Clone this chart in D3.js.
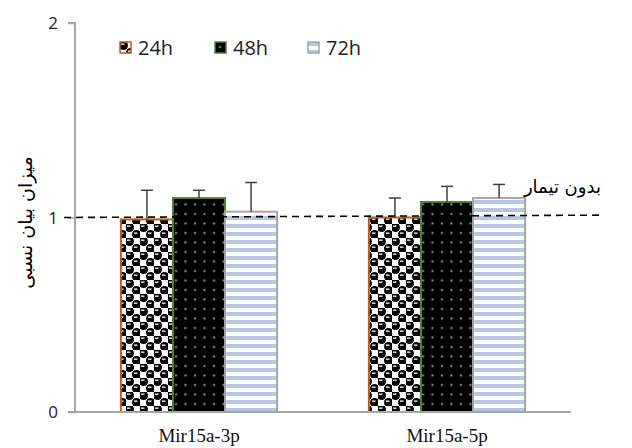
<!DOCTYPE html>
<html>
<head>
<meta charset="utf-8">
<script src="https://cdn.jsdelivr.net/npm/d3@7"></script>
<style>
  body { margin: 0; background: #fff; }
</style>
</head>
<body>
<svg id="chart" width="632" height="448"></svg>
<script>
const categories = ["Mir15a-3p", "Mir15a-5p"];
const series = ["24h", "48h", "72h"];
const values = {
  "24h": [0.99, 1.00],
  "48h": [1.10, 1.08],
  "72h": [1.03, 1.10]
};
const errors = {
  "24h": [0.15, 0.10],
  "48h": [0.04, 0.08],
  "72h": [0.15, 0.07]
};
const yTicks = [0, 1, 2];
const refValue = 1;
const refLabel = "بدون تیمار";
const yTitle = "میزان بیان نسبی";

const svg = d3.select("#chart");
const margin = { left: 75, right: 61, top: 23, bottom: 36 };
const width = 632, height = 448;

const x = d3.scaleBand().domain(categories).range([margin.left, width - margin.right]).paddingInner(0.37).paddingOuter(0.185);
const xs = d3.scaleBand().domain(series).range([0, x.bandwidth()]);
const y = d3.scaleLinear().domain([0, 2]).range([height - margin.bottom, margin.top]);

const strokes = { "24h": "#c55a11", "48h": "#548235", "72h": "#a5a5a5" };

// patterns
const defs = svg.append("defs");
const p1 = defs.append("pattern").attr("id", "p24h").attr("patternUnits", "userSpaceOnUse")
  .attr("width", 14).attr("height", 14);
p1.append("rect").attr("width", 14).attr("height", 14).attr("fill", "#fff");
[[3.5, 3.5], [10.5, 10.5]].forEach(([cx, cy]) => {
  p1.append("rect").attr("x", cx - 3.5).attr("y", cy - 3.5).attr("width", 7).attr("height", 7).attr("fill", "#000");
  p1.append("circle").attr("cx", cx).attr("cy", cy).attr("r", 4.5).attr("fill", "#000");
  p1.append("rect").attr("x", cx - 2.5).attr("y", cy - 2).attr("width", 3.5).attr("height", 1.3).attr("fill", "#fff");
});

const p2 = defs.append("pattern").attr("id", "p48h").attr("patternUnits", "userSpaceOnUse")
  .attr("width", 9.5).attr("height", 9.5);
p2.append("rect").attr("width", 9.5).attr("height", 9.5).attr("fill", "#000");
p2.append("rect").attr("x", 4).attr("y", 4).attr("width", 2).attr("height", 2).attr("fill", "#999");

const p3 = defs.append("pattern").attr("id", "p72h").attr("patternUnits", "userSpaceOnUse")
  .attr("width", 8).attr("height", 8);
p3.append("rect").attr("width", 8).attr("height", 8).attr("fill", "#fff");
p3.append("rect").attr("y", 0).attr("width", 8).attr("height", 4).attr("fill", "#b4c7e7");

// bars
const rows = [];
series.forEach(s => categories.forEach((c, i) => rows.push({ s, c, v: values[s][i], e: errors[s][i] })));

svg.append("g").selectAll("rect").data(rows).join("rect")
  .attr("x", d => x(d.c) + xs(d.s))
  .attr("y", d => y(d.v))
  .attr("width", xs.bandwidth())
  .attr("height", d => y(0) - y(d.v))
  .attr("fill", d => "url(#p" + d.s + ")")
  .attr("stroke", d => strokes[d.s])
  .attr("stroke-width", 2);

// error bars (upper only)
const eg = svg.append("g").attr("stroke", "#404040").attr("stroke-width", 1.5);
eg.selectAll("line.v").data(rows).join("line").attr("class", "v")
  .attr("x1", d => x(d.c) + xs(d.s) + xs.bandwidth() / 2)
  .attr("x2", d => x(d.c) + xs(d.s) + xs.bandwidth() / 2)
  .attr("y1", d => y(d.v))
  .attr("y2", d => y(d.v + d.e));
eg.selectAll("line.h").data(rows).join("line").attr("class", "h")
  .attr("x1", d => x(d.c) + xs(d.s) + xs.bandwidth() / 2 - 6)
  .attr("x2", d => x(d.c) + xs(d.s) + xs.bandwidth() / 2 + 6)
  .attr("y1", d => y(d.v + d.e))
  .attr("y2", d => y(d.v + d.e));

// axes
const yAxis = svg.append("g").attr("transform", `translate(${margin.left},0)`)
  .call(d3.axisLeft(y).tickValues(yTicks).tickSize(7).tickFormat(d3.format("d")));
yAxis.select(".domain").attr("stroke", "#a6a6a6").attr("stroke-width", 2)
  .attr("d", `M${-7},${y(2)}H0V${y(0)}H-7`);
yAxis.selectAll(".tick line").attr("stroke", "#a6a6a6").attr("stroke-width", 1.5);
yAxis.selectAll(".tick text").attr("x", -17).attr("dy", "0.35em")
  .style("font-family", "'Open Sans', sans-serif").style("font-size", "17px").attr("fill", "#222");

const xAxis = svg.append("g").attr("transform", `translate(0,${y(0)})`)
  .call(d3.axisBottom(x).tickSize(0));
xAxis.select(".domain").attr("stroke", "#a6a6a6").attr("stroke-width", 2)
  .attr("d", `M${margin.left},0H${width - margin.right}`);
xAxis.selectAll(".tick text").attr("y", 17)
  .style("font-family", "'Liberation Serif', serif").style("font-size", "19px").attr("fill", "#111");

// reference line
svg.append("line")
  .attr("x1", 64).attr("x2", 599)
  .attr("y1", y(refValue)).attr("y2", y(refValue + 0.012))
  .attr("stroke", "#000").attr("stroke-width", 1.6).attr("stroke-dasharray", "7,5");
svg.append("text").attr("x", 601).attr("y", y(refValue) - 25)
  .attr("text-anchor", "end")
  .style("font-family", "'DejaVu Sans', sans-serif").style("font-size", "18px")
  .text(refLabel);

// y title
svg.append("text")
  .attr("transform", `translate(25,${y(1) + 5}) rotate(-90)`)
  .attr("text-anchor", "middle").attr("dy", "0.35em")
  .style("font-family", "'DejaVu Sans', sans-serif").style("font-size", "19px")
  .text(yTitle);

// legend
const legX = [120, 215, 308];
const leg = svg.append("g").selectAll("g").data(series).join("g")
  .attr("transform", (d, i) => `translate(${legX[i]},42)`);
leg.append("rect").attr("width", 11).attr("height", 11)
  .attr("fill", d => "url(#p" + d + ")").attr("stroke", d => strokes[d]).attr("stroke-width", 1.5);
leg.append("text").attr("x", 18).attr("y", 6).attr("dy", "0.36em")
  .style("font-family", "'Open Sans', sans-serif").style("font-size", "20px").attr("fill", "#222")
  .text(d => d);
</script>
</body>
</html>
